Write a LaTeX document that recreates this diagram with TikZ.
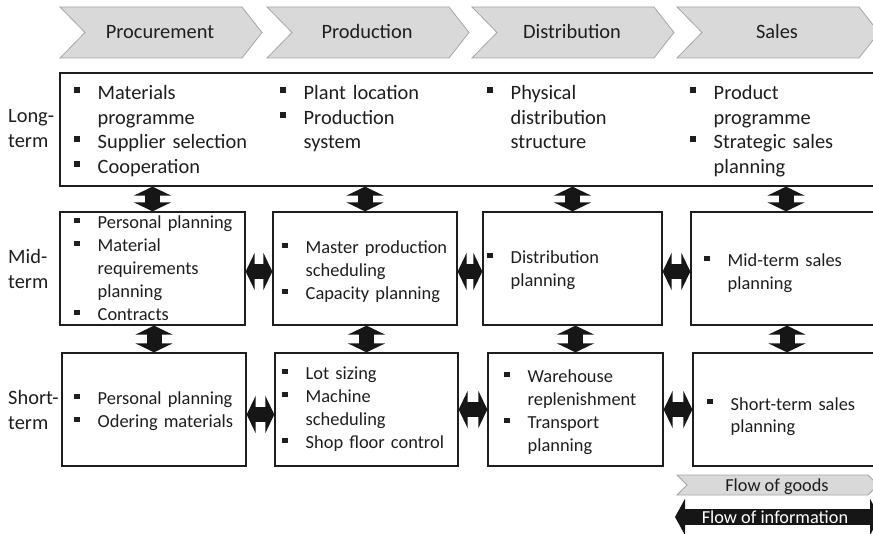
\documentclass[tikz,border=0pt]{standalone}
\usepackage{fontspec}
\setmainfont{Carlito}
\usepackage{xcolor}
\definecolor{chevron-fill}{HTML}{D9D9D9}
\definecolor{chevron-line}{HTML}{A6A6A6}
\definecolor{plan-black}{HTML}{1E1E1E}
\definecolor{arrow-black}{HTML}{161616}
\usepackage{tikz}
\usetikzlibrary{arrows.meta}

% square bullet with hanging indent
\newcommand{\bitem}[1]{\hangindent=23.5pt\hangafter=1\makebox[23.5pt][l]{\raisebox{0.32em}{\rule{0.3em}{0.3em}}}#1\par}

\begin{document}
\begin{tikzpicture}[x=1pt, y=-1pt,
    planbox/.style={draw=plan-black, line width=1.3pt, inner sep=0pt, minimum height=113},
    bullets/.style={anchor=base west, inner sep=0pt, text width=185pt, text=plan-black,
        font=\fontsize{18.4}{23}\selectfont},
    bigbullets/.style={bullets, font=\fontsize{20.4}{24.5}\selectfont},
    horizon/.style={anchor=west, inner sep=0pt, align=left, text=plan-black,
        font=\fontsize{20.4}{25}\selectfont},
    phase/.style={anchor=base, inner sep=0pt, text=plan-black, font=\fontsize{20.4}{24}\selectfont},
    legend/.style={anchor=base, inner sep=0pt, font=\fontsize{18.3}{22}\selectfont},
    linkarrow/.style={draw=arrow-black, line width=15pt,
        {Triangle[width=37pt,length=9pt]}-{Triangle[width=37pt,length=9pt]}}]

    \clip (0,0) rectangle (873,534);

    % Phases
    \foreach \x/\name/\lab in {60/proc/Procurement, 267/prod/Production, 472/dist/Distribution, 677/sale/Sales} {
        \filldraw[fill=chevron-fill, draw=chevron-line, line width=0.8pt]
            (\x,7) -- (\x+182,7) -- (\x+202,32.5) -- (\x+182,58) -- (\x,58) -- (\x+25,32.5) -- cycle;
        \node[phase] (\name) at (\x+100,39) {\lab};
    }

    % Planning horizons
    \node[horizon] (long) at (8,129) {Long-\\term};
    \node[horizon] (mid) at (8,269) {Mid-\\term};
    \node[horizon] (short) at (8,410) {Short-\\term};

    % Long-term
    \node[planbox, minimum width=822] (lt) at (471,129.5) {};
    \node[bigbullets] (lt-proc) at (74,100) {\bitem{Materials\newline programme}\bitem{Supplier selection}\bitem{Cooperation}};
    \node[bigbullets] (lt-prod) at (280,100) {\bitem{Plant location}\bitem{Production\newline system}};
    \node[bigbullets] (lt-dist) at (487,100) {\bitem{Physical\newline distribution\newline structure}};
    \node[bigbullets] (lt-sale) at (690,100) {\bitem{Product\newline programme}\bitem{Strategic sales\newline planning}};

    % Mid-term
    \node[planbox, minimum width=185] (m1) at (152.5,268.5) {};
    \node[planbox, minimum width=184] (m2) at (365,268.5) {};
    \node[planbox, minimum width=179] (m3) at (572.5,268.5) {};
    \node[planbox, minimum width=190] (m4) at (786,268.5) {};
    \node[bullets] (mt-proc) at (74,229) {\bitem{Personal planning}\bitem{Material\newline requirements\newline planning}\bitem{Contracts}};
    \node[bullets] (mt-prod) at (282,254) {\bitem{Master production\newline scheduling}\bitem{Capacity planning}};
    \node[bullets] (mt-dist) at (487,264) {\bitem{Distribution\newline planning}};
    \node[bullets] (mt-sale) at (704,267) {\bitem{Mid-term sales\newline planning}};

    % Short-term
    \node[planbox, minimum width=184] (s1) at (154,409.5) {};
    \node[planbox, minimum width=183] (s2) at (366.5,409.5) {};
    \node[planbox, minimum width=175] (s3) at (575.5,409.5) {};
    \node[planbox, minimum width=188] (s4) at (787,409.5) {};
    \node[bullets] (st-proc) at (74,405) {\bitem{Personal planning}\bitem{Odering materials}};
    \node[bullets] (st-prod) at (282,380) {\bitem{Lot sizing}\bitem{Machine\newline scheduling}\bitem{Shop floor control}};
    \node[bullets] (st-dist) at (504,383) {\bitem{Warehouse\newline replenishment}\bitem{Transport\newline planning}};
    \node[bullets] (st-sale) at (707,410) {\bitem{Short-term sales\newline planning}};

    % Information links
    \foreach \m/\s in {m1/s1, m2/s2, m3/s3, m4/s4} {
        \draw[linkarrow] (\m.north |- lt.south) -- (\m.north);
        \draw[linkarrow] (\s.north |- \m.south) -- (\s.north);
    }
    \draw[linkarrow] ([yshift=-3pt]m1.east) -- ([yshift=-3pt]m2.west);
    \draw[linkarrow] ([yshift=-3pt]m2.east) -- ([yshift=-3pt]m3.west);
    \draw[linkarrow] ([yshift=-3pt]m3.east) -- ([yshift=-3pt]m4.west);
    \draw[linkarrow] ([yshift=-5pt]s1.east) -- ([yshift=-5pt]s2.west);
    \draw[linkarrow] (s2.east) -- (s3.west);
    \draw[linkarrow] (s3.east) -- (s4.west);

    % Legend
    \filldraw[fill=chevron-fill, draw=chevron-line, line width=0.8pt]
        (677,475) -- (868,475) -- (878,485) -- (868,495) -- (677,495) -- (687,485) -- cycle;
    \node[legend, text=plan-black] (goods) at (777,491) {Flow of goods};
    \coordinate (info-l) at (675,517);
    \coordinate (info-r) at (880,517);
    \draw[linkarrow, line width=16pt, {Triangle[width=36pt,length=10pt]}-{Triangle[width=36pt,length=10pt]}] (info-l) -- (info-r);
    \node[legend, text=white] (info) at (775,523) {Flow of information};

\end{tikzpicture}
\end{document}
